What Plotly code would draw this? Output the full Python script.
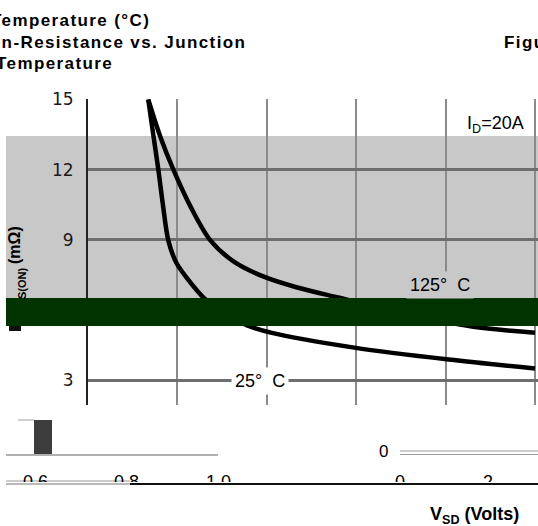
import plotly.graph_objects as go

# ---------------- data ----------------
x_25 = [0.674, 0.730, 0.787, 0.838, 0.899, 0.985, 1.101, 1.292, 1.510, 1.787, 2.045, 2.978, 4.034, 5.0]
y_25 = [15.0, 13.5, 12.0, 10.5, 8.97, 8.05, 7.40, 6.54, 5.90, 5.34, 5.04, 4.40, 3.89, 3.51]
x_125 = [0.674, 0.810, 0.955, 1.150, 1.371, 1.640, 1.966, 2.330, 2.798, 3.500, 4.292, 5.0]
y_125 = [15.0, 13.4, 12.0, 10.4, 8.97, 8.05, 7.43, 6.98, 6.54, 5.90, 5.30, 5.04]
y_ticks = [3, 6, 9, 12, 15]
y_tick_text = ["3", "6", "9", "12", "15"]
x_grid = [0, 1, 2, 3, 4, 5]
bottom_labels = ["0.6", "0.8", "1.0", "0", "2"]

W, H = 538, 526
ML, MR, MT, MB = 88, 0, 99, 121
PW, PH = W - ML - MR, H - MT - MB


def px(xp):
    return (xp - ML) / PW


def py(yp):
    return (H - MB - yp) / PH


fig = go.Figure()
for xs, ys in [(x_125, y_125), (x_25, y_25)]:
    fig.add_trace(go.Scatter(x=xs, y=ys, mode="lines",
                             line=dict(color="black", width=4.5, shape="spline", smoothing=0.9),
                             cliponaxis=False, showlegend=False, hoverinfo="skip"))

shapes = []
# grey band (below grid)
shapes.append(dict(type="rect", xref="paper", yref="paper", x0=px(6), x1=1.0,
                   y0=py(298), y1=py(136), fillcolor="#c8c8c8",
                   line=dict(width=0), layer="below"))
# dark green band (above)
shapes.append(dict(type="rect", xref="paper", yref="paper", x0=px(6), x1=1.0,
                   y0=py(326), y1=py(298), fillcolor="#003300",
                   line=dict(width=0), layer="above"))
# stub of the R below band
shapes.append(dict(type="rect", xref="paper", yref="paper", x0=px(9), x1=px(21),
                   y0=py(331), y1=py(326), fillcolor="#111111",
                   line=dict(width=0), layer="above"))
# bottom debris
shapes.append(dict(type="rect", xref="paper", yref="paper", x0=px(34), x1=px(52),
                   y0=py(455), y1=py(420), fillcolor="#3c3c3c",
                   line=dict(width=0), layer="above"))


def hline(x0, x1, y, color, width):
    shapes.append(dict(type="line", xref="paper", yref="paper", x0=px(x0), x1=px(x1),
                       y0=py(y), y1=py(y), line=dict(color=color, width=width),
                       layer="above"))


hline(18, 34, 420, "#a0a0a0", 1)
hline(6, 218, 455, "#b0b0b0", 2)
hline(400, 538, 451, "#999999", 1.2)
hline(400, 538, 454.5, "#999999", 1.2)
hline(6, 130, 481, "#999999", 1.2)
hline(6, 130, 484, "#777777", 1.2)
hline(130, 538, 484, "#111111", 2)

annotations = []
FAM = "Liberation Sans, Arial"
bold = dict(family=FAM, size=17, color="black")
reg18 = dict(family=FAM, size=18, color="black")


def spaced(txt, sp):
    return '<span style="letter-spacing:%spx"><b>%s</b></span>' % (sp, txt)


# cut-off titles
for txt, x0, yc in [("Temperature (°C)", -11, 20),
                    ("On-Resistance vs. Junction", -15, 42),
                    ("Temperature", -6, 64),
                    ("Figure", 502, 42)]:
    annotations.append(dict(text=spaced(txt, 1.4), xref="paper", yref="paper",
                            x=px(x0), y=py(yc), xanchor="left", yanchor="middle",
                            showarrow=False, font=bold))

annotations.append(dict(text="<b>V<sub>SD</sub> (Volts)</b>", xref="paper", yref="paper",
                        x=px(474), y=py(515), xanchor="center", yanchor="middle",
                        showarrow=False, font=dict(family=FAM, size=18, color="black")))

annotations.append(dict(text="I<sub>D</sub>=20A", xref="paper", yref="paper",
                        x=px(495), y=py(124), xanchor="center", yanchor="middle",
                        showarrow=False, font=reg18))

annotations.append(dict(text="125°  C", xref="paper", yref="paper",
                        x=px(440), y=py(285), xanchor="center", yanchor="middle",
                        showarrow=False, font=reg18, bgcolor="#c8c8c8", borderpad=3))
annotations.append(dict(text="25°  C", xref="paper", yref="paper",
                        x=px(260), y=py(381), xanchor="center", yanchor="middle",
                        showarrow=False, font=reg18, bgcolor="white", borderpad=3))

# y-axis title pieces visible around the band
annotations.append(dict(text="<b>(mΩ)</b>", xref="paper", yref="paper",
                        x=px(14), y=py(245), xanchor="center", yanchor="middle",
                        textangle=-90, showarrow=False,
                        font=dict(family=FAM, size=16, color="black")))
annotations.append(dict(text="<b>S(ON)</b>", xref="paper", yref="paper",
                        x=px(22), y=py(283), xanchor="center", yanchor="middle",
                        textangle=-90, showarrow=False,
                        font=dict(family=FAM, size=11, color="black")))

annotations.append(dict(text="0", xref="paper", yref="paper",
                        x=px(383), y=py(452), xanchor="center", yanchor="middle",
                        showarrow=False, font=dict(family=FAM, size=17, color="black")))

for lab, xc in zip(bottom_labels, [35, 126, 218, 400, 488]):
    annotations.append(dict(text=lab, xref="paper", yref="paper",
                            x=px(xc), y=py(470), xanchor="center", yanchor="top",
                            height=10, valign="top", showarrow=False,
                            font=dict(family=FAM, size=18, color="black")))

fig.update_layout(
    width=W, height=H,
    margin=dict(l=ML, r=MR, t=MT, b=MB, pad=0),
    paper_bgcolor="white", plot_bgcolor="rgba(0,0,0,0)",
    shapes=shapes, annotations=annotations, showlegend=False,
    xaxis=dict(range=[0, 450 / 89.4], tickvals=x_grid, showticklabels=False,
               showgrid=True, gridcolor="#8a8a8a", gridwidth=2,
               zeroline=False, showline=False, ticks="", fixedrange=True),
    yaxis=dict(range=[1.95, 15.02], tickvals=y_ticks, ticktext=y_tick_text,
               showgrid=True, gridcolor="#6e6e6e", gridwidth=2.5,
               zeroline=False, showline=True, linecolor="#222222", linewidth=2,
               ticks="", ticklabelstandoff=9,
               tickfont=dict(family="DejaVu Sans", size=17, color="#1a1a1a")),
)

fig.write_html("out.html", config={"displayModeBar": False},
               post_script="document.body.style.margin='0';document.body.style.overflow='hidden';")
